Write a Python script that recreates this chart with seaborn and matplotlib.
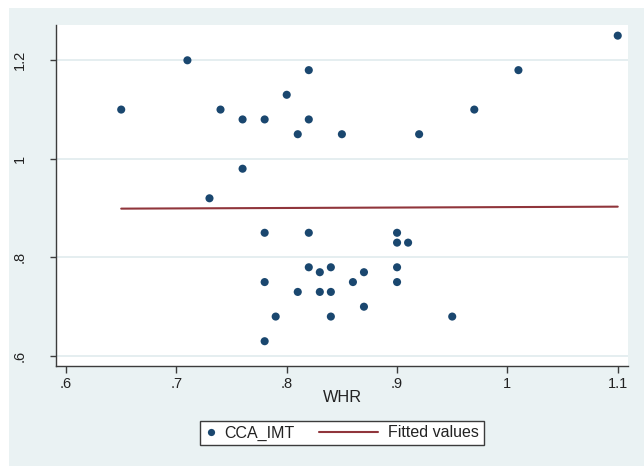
import matplotlib
matplotlib.use("Agg")
import matplotlib.pyplot as plt
import seaborn as sns
import pandas as pd
from matplotlib.patches import Rectangle
from matplotlib.lines import Line2D
from matplotlib.legend_handler import HandlerBase

# ---- data ----
whr = [0.65, 0.71, 0.73, 0.74, 0.76, 0.76, 0.78, 0.78, 0.78, 0.78, 0.79, 0.80,
       0.81, 0.81, 0.82, 0.82, 0.82, 0.82, 0.83, 0.83, 0.84, 0.84, 0.84, 0.85,
       0.86, 0.87, 0.87, 0.90, 0.90, 0.90, 0.90, 0.91, 0.92, 0.95, 0.97, 1.01, 1.10]
cca_imt = [1.10, 1.20, 0.92, 1.10, 1.08, 0.98, 1.08, 0.85, 0.75, 0.63, 0.68, 1.13,
           1.05, 0.73, 1.18, 1.08, 0.85, 0.78, 0.77, 0.73, 0.78, 0.73, 0.68, 1.05,
           0.75, 0.77, 0.70, 0.85, 0.83, 0.78, 0.75, 0.83, 1.05, 0.68, 1.10, 1.18, 1.25]
fit_x = [0.65, 1.10]
fit_y = [0.899, 0.903]

x_ticks = [0.6, 0.7, 0.8, 0.9, 1.0, 1.1]
x_tick_labels = [".6", ".7", ".8", ".9", "1", "1.1"]
y_ticks = [0.6, 0.8, 1.0, 1.2]
y_tick_labels = [".6", ".8", "1", "1.2"]

scatter_label = "CCA_IMT"
line_label = "Fitted values"
x_title = "WHR"

# ---- style ----
NAVY = "#1A476F"
MAROON = "#90353B"
BG = "#EAF2F3"
AXC = "#3C3C3C"

sns.set_style("white")
plt.rcParams["font.family"] = ["Liberation Sans", "DejaVu Sans"]

W, H = 644, 466
fig = plt.figure(figsize=(W / 100, H / 100), dpi=100)
fig.patch.set_facecolor("white")
fig.add_artist(Rectangle((9 / W, 0), 1 - 9 / W, (H - 8) / H,
                         transform=fig.transFigure, facecolor=BG,
                         edgecolor="none", zorder=0))

ax = fig.add_axes([56 / W, 1 - 366 / H, (628 - 56) / W, (366 - 25) / H])
ax.set_facecolor("white")

df = pd.DataFrame({"WHR": whr, "CCA_IMT": cca_imt})
fit_df = pd.DataFrame({"x": fit_x, "y": fit_y})

sns.scatterplot(data=df, x="WHR", y="CCA_IMT", ax=ax, color=NAVY, s=34,
                edgecolor="none", linewidth=0, zorder=3, legend=False)
sns.lineplot(data=fit_df, x="x", y="y", ax=ax, color=MAROON, linewidth=1.5,
             zorder=2, legend=False)

ax.set_xlim(0.5909, 1.1093)
ax.set_ylim(0.5797, 1.2716)
ax.set_xticks(x_ticks)
ax.set_xticklabels(x_tick_labels)
ax.set_yticks(y_ticks)
ax.set_yticklabels(y_tick_labels, rotation=90, va="center")

ax.grid(axis="y", color="#E3EDEF", linewidth=1.3, zorder=1)
ax.grid(axis="x", visible=False)
ax.set_axisbelow(True)

for side in ["top", "right"]:
    ax.spines[side].set_visible(False)
for side in ["left", "bottom"]:
    ax.spines[side].set_color(AXC)
    ax.spines[side].set_linewidth(1.0)

ax.tick_params(axis="x", direction="out", length=5, width=1.0, color=AXC,
               labelsize=10.5, pad=2.9, labelcolor="#222222", bottom=True)
ax.tick_params(axis="y", direction="out", length=4.5, width=1.0, color=AXC,
               labelsize=10.5, pad=16.5, labelcolor="#222222", left=True)

ax.set_xlabel(x_title, fontsize=11.7, color="#222222", va="top")
ax.xaxis.set_label_coords(0.5, -0.0704)
ax.set_ylabel("")


class MarkerHandler(HandlerBase):
    def create_artists(self, legend, orig_handle, xdescent, ydescent,
                       width, height, fontsize, trans):
        x = width - 2.45 - xdescent
        y = height / 2 - ydescent
        m = Line2D([x], [y], marker="o", markersize=5.2, color=NAVY,
                   linestyle="none", markeredgewidth=0, transform=trans)
        return [m]


class LongLineHandler(HandlerBase):
    def create_artists(self, legend, orig_handle, xdescent, ydescent,
                       width, height, fontsize, trans):
        y = height / 2 - ydescent
        x1 = width - xdescent
        x0 = x1 - 42.5
        ln = Line2D([x0, x1], [y, y], color=MAROON, linewidth=1.5,
                    transform=trans)
        return [ln]


h1 = Line2D([], [], marker="o", color=NAVY, linestyle="none")
h2 = Line2D([], [], color=MAROON)
leg = fig.legend(handles=[h1, h2], labels=[scatter_label, line_label],
                 loc="center", bbox_to_anchor=(342 / W, 1 - 433 / H),
                 ncol=2, frameon=True, fancybox=False, framealpha=1,
                 edgecolor=AXC, facecolor="white", fontsize=11.5,
                 handlelength=0.6, handletextpad=0.62, columnspacing=4.6,
                 borderpad=0.3, borderaxespad=0,
                 handler_map={h1: MarkerHandler(), h2: LongLineHandler()})
leg.get_frame().set_linewidth(1.0)
for t in leg.get_texts():
    t.set_color("#222222")

fig.savefig("out.png", dpi=100, facecolor=fig.get_facecolor())
